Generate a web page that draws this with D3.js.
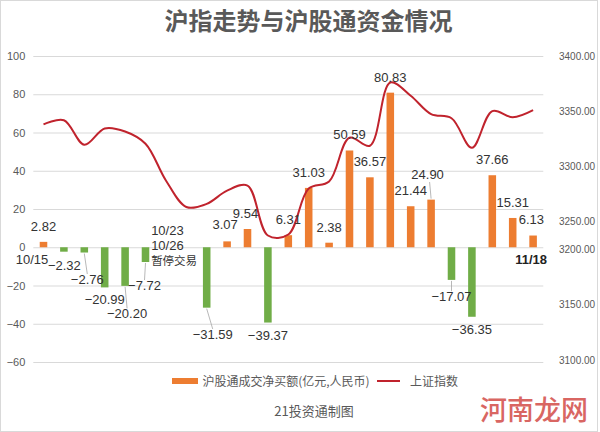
<!DOCTYPE html>
<html><head><meta charset="utf-8">
<script src="https://cdn.jsdelivr.net/npm/d3@7"></script>
<style>
html,body{margin:0;padding:0;background:#fff;}
svg{display:block;font-family:"Liberation Sans",Arial,"Noto Sans CJK SC",sans-serif;}
</style></head>
<body><svg id="c" width="600" height="432"></svg>
<script>
const dates = ["10/15","10/16","10/19","10/20","10/21","10/22","10/23","10/26","10/27","10/28","10/29","10/30","11/2","11/3","11/4","11/5","11/6","11/9","11/10","11/11","11/12","11/13","11/16","11/17","11/18"];
const netBuy = [2.82,-2.32,-2.76,-20.99,-20.20,-7.72,null,null,-31.59,3.07,9.54,-39.37,6.31,31.03,2.38,50.59,36.57,80.83,21.44,24.90,-17.07,-36.35,37.66,15.31,6.13];
const sseIndex = [3333,3337,3313,3329,3326,3314,3278,3252,3255,3268,3273,3224,3225,3270,3277,3320,3312,3374,3361,3343,3339,3310,3346,3340,3347];
const leftTicks = [100,80,60,40,20,0,-20,-40,-60];
const rightTicks = [3400,3350,3300,3250,3200,3150,3100];
const title = "沪指走势与沪股通资金情况";
const barName = "沪股通成交净买额(亿元,人民币)";
const lineName = "上证指数";
const source = "21投资通制图";
const suspendedDates = ["10/23","10/26"];
const suspendedText = "暂停交易";

// layout-only nudges for data labels [dx, dy, leader]
const nudge = {
  "10/16":[0.5,1,false], "10/19":[3,14.5,true], "10/21":[2,15.5,true],
  "10/22":[-1,11,true], "10/27":[6,14.3,true], "10/28":[-2,-1,false],
  "10/29":[-2,0,false], "11/11":[-3.5,-9.6,true], "11/12":[0,4.3,true],
  "11/18":[-1.7,-1,false], "11/10":[0,-0.6,false]
};

const svg = d3.select("#c");
svg.append("rect").attr("x",0.5).attr("y",0.5).attr("width",597).attr("height",431)
  .attr("fill","#fff").attr("stroke","#d9d9d9");

const x = d3.scaleBand().domain(dates).range([33.3,543.3]).paddingInner(0.63).paddingOuter(0.315);
const y = d3.scaleLinear().domain([-60,100]).range([362,56]);
const y2 = d3.scaleLinear().domain([3100,3400]).range([362,56]);
// right-hand labels as placed in the reference picture
const y2Labels = d3.scaleLinear().domain([3100,3200,3250,3400]).range([360,249.3,221.7,56]);

// gridlines + left axis
const gl = svg.append("g").attr("transform","translate(33.3,0)")
  .call(d3.axisLeft(y).tickValues(leftTicks).tickSize(-510).tickPadding(8)
    .tickFormat(d => d < 0 ? "−" + Math.abs(d) : String(d)));
gl.select(".domain").remove();
gl.selectAll(".tick line").attr("stroke","#d9d9d9");
gl.selectAll(".tick text").attr("fill","#595959").style("font-size","11px")
  .attr("font-family","Liberation Sans, Arial, sans-serif");

// right axis labels
const gr = svg.append("g").attr("transform","translate(559,0)")
  .call(d3.axisRight(y2Labels).tickValues(rightTicks).tickSize(0).tickPadding(0)
    .tickFormat(d => d.toFixed(2)));
gr.select(".domain").remove();
gr.selectAll(".tick text").attr("fill","#595959").style("font-size","10px")
  .attr("font-family","Liberation Sans, Arial, sans-serif");

// bars
const data = dates.map((d,i)=>({d, v: netBuy[i], s: sseIndex[i]}));
svg.append("g").selectAll("rect").data(data.filter(o=>o.v!==null)).join("rect")
  .attr("x", o=>x(o.d)).attr("width", x.bandwidth())
  .attr("y", o=>y(Math.max(0,o.v))).attr("height", o=>Math.abs(y(o.v)-y(0)))
  .attr("fill", o=> o.v>=0 ? "#ED7D31" : "#70AD47");

// line
const line = d3.line().x(o=>x(o.d)+x.bandwidth()/2).y(o=>y2(o.s)).curve(d3.curveCatmullRom.alpha(0.5));
svg.append("path").datum(data).attr("d", line).attr("fill","none")
  .attr("stroke","#C0232D").attr("stroke-width",2);

// data labels
const fmt = v => (v<0 ? "−" : "") + Math.abs(v).toFixed(2);
const lab = svg.append("g").attr("font-size","13px").attr("fill","#333");
data.filter(o=>o.v!==null).forEach(o=>{
  const cx = x(o.d)+x.bandwidth()/2;
  const ey = y(o.v);
  const n = nudge[o.d] || [0,0,false];
  const lx = cx + n[0];
  const by = (o.v>=0 ? ey-11 : ey+17) + n[1];
  if (n[2]) {
    const ty = o.v>=0 ? by+3 : by-10;
    svg.append("line").attr("x1",cx).attr("y1", o.v>=0? ey-1 : ey+1)
      .attr("x2",lx+ (o.v>=0?2:0)).attr("y2",ty)
      .attr("stroke","#a6a6a6").attr("stroke-width",0.8);
  }
  lab.append("text").attr("x",lx).attr("y",by).attr("text-anchor","middle").text(fmt(o.v));
});

// date labels
const first = dates[0], last = dates[dates.length-1];
lab.append("text").attr("x", x(first)+x.bandwidth()/2-11.5).attr("y",264).attr("text-anchor","middle").text(first);
lab.append("text").attr("x", x(last)+x.bandwidth()/2-2).attr("y",263.7).attr("text-anchor","middle")
  .attr("font-weight","bold").attr("fill","#222").text(last);
const sx = x(suspendedDates[0]) - 11;
lab.append("text").attr("x", sx).attr("y",234.5).text(suspendedDates[0]);
lab.append("text").attr("x", sx).attr("y",249.5).text(suspendedDates[1]);
lab.append("text").attr("x", sx).attr("y",264.5).attr("font-size","11.5px")
  .attr("font-family","Noto Sans CJK SC, sans-serif").text(suspendedText);

// title
svg.append("text").attr("x",308.5).attr("y",30).attr("text-anchor","middle")
  .attr("font-family","Noto Sans CJK SC, sans-serif").attr("font-weight","bold")
  .attr("font-size","24px").attr("fill","#595959").text(title);

// legend
const lg = svg.append("g").attr("font-family","Noto Sans CJK SC, sans-serif").attr("font-size","12px").attr("fill","#595959");
lg.append("rect").attr("x",172).attr("y",378).attr("width",26).attr("height",6).attr("fill","#ED7D31");
lg.append("text").attr("x",202.5).attr("y",385.5).attr("textLength",167).text(barName);
lg.append("line").attr("x1",377).attr("x2",400).attr("y1",381).attr("y2",381).attr("stroke","#C0232D").attr("stroke-width",2);
lg.append("text").attr("x",410).attr("y",385.5).text(lineName);

svg.append("text").attr("x",314).attr("y",416).attr("text-anchor","middle")
  .attr("font-family","Noto Sans CJK SC, sans-serif").attr("font-size","13px").attr("fill","#595959").text(source);

// watermark
svg.append("text").attr("x",534).attr("y",420).attr("text-anchor","middle")
  .attr("font-family","Noto Sans CJK SC, sans-serif").attr("font-weight","500")
  .attr("font-size","27px").attr("fill","#d0413c").attr("opacity",0.8).text("河南龙网");
</script></body></html>
